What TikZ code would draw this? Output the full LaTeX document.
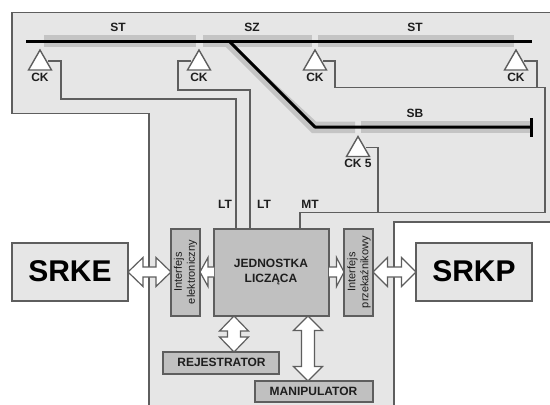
\documentclass[tikz,border=0pt]{standalone}
\usepackage{fontspec}
\setmainfont{Liberation Sans}
\usetikzlibrary{calc}
\definecolor{panelc}{HTML}{E6E6E6}
\definecolor{boxc}{HTML}{C0C0C0}
\definecolor{edgec}{HTML}{5E5E5E}
\definecolor{shadowc}{HTML}{C4C4C4}
\definecolor{txtc}{HTML}{1E1E1E}
\tikzset{
  x=1pt,y=-1pt,
  panel/.style={fill=panelc,draw=edgec,line width=1.5pt},
  wire/.style={draw=edgec,line width=1.5pt,line join=miter},
  railbg/.style={draw=shadowc,line width=11.5pt},
  rail/.style={draw=black,line width=3pt,line join=round},
  sens/.style={fill=white,draw=edgec,line width=1.4pt,line join=miter},
  graybox/.style={fill=boxc,draw=edgec,line width=1.5pt,inner sep=0pt,outer sep=0pt,anchor=north west},
  lightbox/.style={fill=panelc,draw=edgec,line width=1.5pt,inner sep=0pt,outer sep=0pt,anchor=north west},
  fat/.style={fill=white,draw=edgec,line width=1.2pt,line join=miter},
  lab/.style={font=\fontsize{12}{12}\selectfont\bfseries,text=txtc,inner sep=0pt},
  big/.style={font=\fontsize{30}{30}\selectfont\bfseries,text=black},
  side/.style={font=\fontsize{11}{13}\selectfont,text=txtc,rotate=90,align=center,inner sep=0pt},
}
% double-headed block arrow A->B: head length, half head width, half shaft width
\newcommand\fatdouble[5]{%
  \draw[fat] (#1)
    -- ($(#1)!#3pt!(#2)!#4pt!90:(#2)$) -- ($(#1)!#3pt!(#2)!#5pt!90:(#2)$)
    -- ($(#2)!#3pt!(#1)!#5pt!-90:(#1)$) -- ($(#2)!#3pt!(#1)!#4pt!-90:(#1)$)
    -- (#2)
    -- ($(#2)!#3pt!(#1)!#4pt!90:(#1)$) -- ($(#2)!#3pt!(#1)!#5pt!90:(#1)$)
    -- ($(#1)!#3pt!(#2)!#5pt!-90:(#2)$) -- ($(#1)!#3pt!(#2)!#4pt!-90:(#2)$)
    -- cycle;}
% single-headed block arrow: tail at A, tip at B
\newcommand\fatsingle[5]{%
  \fill[white] ($(#1)!#5pt!90:(#2)$) -- ($(#2)!#3pt!(#1)!#5pt!-90:(#1)$) -- ($(#2)!#3pt!(#1)!#4pt!-90:(#1)$)
    -- (#2) -- ($(#2)!#3pt!(#1)!#4pt!90:(#1)$) -- ($(#2)!#3pt!(#1)!#5pt!90:(#1)$)
    -- ($(#1)!#5pt!-90:(#2)$) -- cycle;
  \draw[fat,fill=none] ($(#1)!#5pt!90:(#2)$) -- ($(#2)!#3pt!(#1)!#5pt!-90:(#1)$) -- ($(#2)!#3pt!(#1)!#4pt!-90:(#1)$)
    -- (#2) -- ($(#2)!#3pt!(#1)!#4pt!90:(#1)$) -- ($(#2)!#3pt!(#1)!#5pt!90:(#1)$)
    -- ($(#1)!#5pt!-90:(#2)$);}
% sensor triangle: apex coordinate, name prefix, label
\newcommand\sensor[4]{%
  \coordinate (#1) at (#2,#3);
  \draw[sens] (#2,#3) -- ++(11.5,20) -- ++(-23,0) -- cycle;
  \coordinate (#1r) at ($(#1)+(8,11)$);
  \coordinate (#1l) at ($(#1)+(-8,11)$);
  \node[lab] (#1t) at (#2,#3+27) {#4};}
\begin{document}
\begin{tikzpicture}
\useasboundingbox (0,0) rectangle (550,405);
\fill[white] (0,0) rectangle (550,405);
\draw[panel] (552,12.5) -- (12,12.5) -- (12,113.5) -- (149,113.5) -- (149,407)
  -- (394,407) -- (394,222) -- (552,222);

% track shadows
\draw[railbg] (44,41) -- (196,41);
\draw[railbg] (203,41) -- (312,41);
\draw[railbg] (318,41) -- (514,41);
\fill[shadowc] (220,41) -- (312,133) -- (355,133) -- (355,121.5) -- (316,121.5) -- (229,41) -- cycle;
\draw[railbg] (361,127) -- (530,127);

% sensors
\sensor{ckA}{40}{50}{CK}
\sensor{ckB}{199}{50}{CK}
\sensor{ckC}{315}{50}{CK}
\sensor{ckD}{516}{50}{CK}
\sensor{ckE}{358}{136.5}{CK 5}

% boxes
\node[graybox,minimum width=115pt,minimum height=87pt] (unit) at (214,229) {};
\node[lab,align=center,font=\fontsize{12}{15.5}\selectfont\bfseries] at (271,272) {JEDNOSTKA\\LICZĄCA};
\node[graybox,minimum width=29pt,minimum height=87pt] (ifE) at (171,229) {};
\node[graybox,minimum width=29pt,minimum height=87pt] (ifP) at (344,229) {};
\node[side] at (185.5,272) {Interfejs\\elektroniczny};
\node[side] at (359,272) {Interfejs\\przekaźnikowy};
\node[lightbox,minimum width=116pt,minimum height=58pt] (srke) at (12,243) {};
\node[big] at (70,271) {SRKE};
\node[lightbox,minimum width=116pt,minimum height=58pt] (srkp) at (416,243) {};
\node[big] at (474,271) {SRKP};
\node[graybox,minimum width=116pt,minimum height=22pt] (rej) at (163,352) {};
\node[lab] at (221.5,362.5) {REJESTRATOR};
\node[graybox,minimum width=118pt,minimum height=21pt] (man) at (255,381) {};
\node[lab] at (313.5,391) {MANIPULATOR};

% wires
\coordinate (jn) at (378,212.5);
\draw[wire] (ckAr) -- (61,61) -- (61,99) -- (236,99) -- (unit.north -| 236,0);
\draw[wire] (ckBl) -- (178,61) -- (178,90) -- (250,90) -- (unit.north -| 250,0);
\draw[wire] (ckCr) -- (335,61) -- (335,87.5) -- (545,87.5) -- (545,212.5) -- (300,212.5) -- (unit.north -| 300,0);
\draw[wire] (ckDr) -- (537,61) -- (537,87.5);
\draw[wire] (ckEr) -- (378,147.5) -- (jn);

% tracks
\draw[rail] (26,41) -- (532,41);
\draw[rail] (229,41) -- (315,127) -- (531,127);
\draw[black,line width=3pt] (531,118) -- (531,137);

% labels
\node[lab] (st1) at (118,27) {ST};
\node[lab] (sz) at (252,27) {SZ};
\node[lab] (st2) at (415,27) {ST};
\node[lab] (sb) at (415,113) {SB};
\node[lab] (lt1) at (225,204) {LT};
\node[lab] (lt2) at (264,204) {LT};
\node[lab] (mt) at (310,204) {MT};

% block arrows
\coordinate (a1) at (srke.east |- 0,272);
\coordinate (a2) at (ifE.west |- 0,272);
\fatdouble{a1}{a2}{15}{14.5}{5}
\coordinate (b1) at (unit.west |- 0,272);
\coordinate (b2) at (ifE.east |- 0,272);
\fatsingle{b1}{b2}{8}{14.5}{5}
\coordinate (c1) at (unit.east |- 0,272);
\coordinate (c2) at (ifP.west |- 0,272);
\fatsingle{c1}{c2}{7.5}{14.5}{5}
\coordinate (d1) at (ifP.east |- 0,272);
\coordinate (d2) at (srkp.west |- 0,272);
\fatdouble{d1}{d2}{14.5}{14.5}{5}
\coordinate (e1) at (234,316);
\coordinate (e2) at (234,352);
\fatdouble{e1}{e2}{15}{14.5}{6.5}
\coordinate (f1) at (308,316);
\coordinate (f2) at (308,381);
\fatdouble{f1}{f2}{14.5}{14.5}{6.5}
\end{tikzpicture}
\end{document}
